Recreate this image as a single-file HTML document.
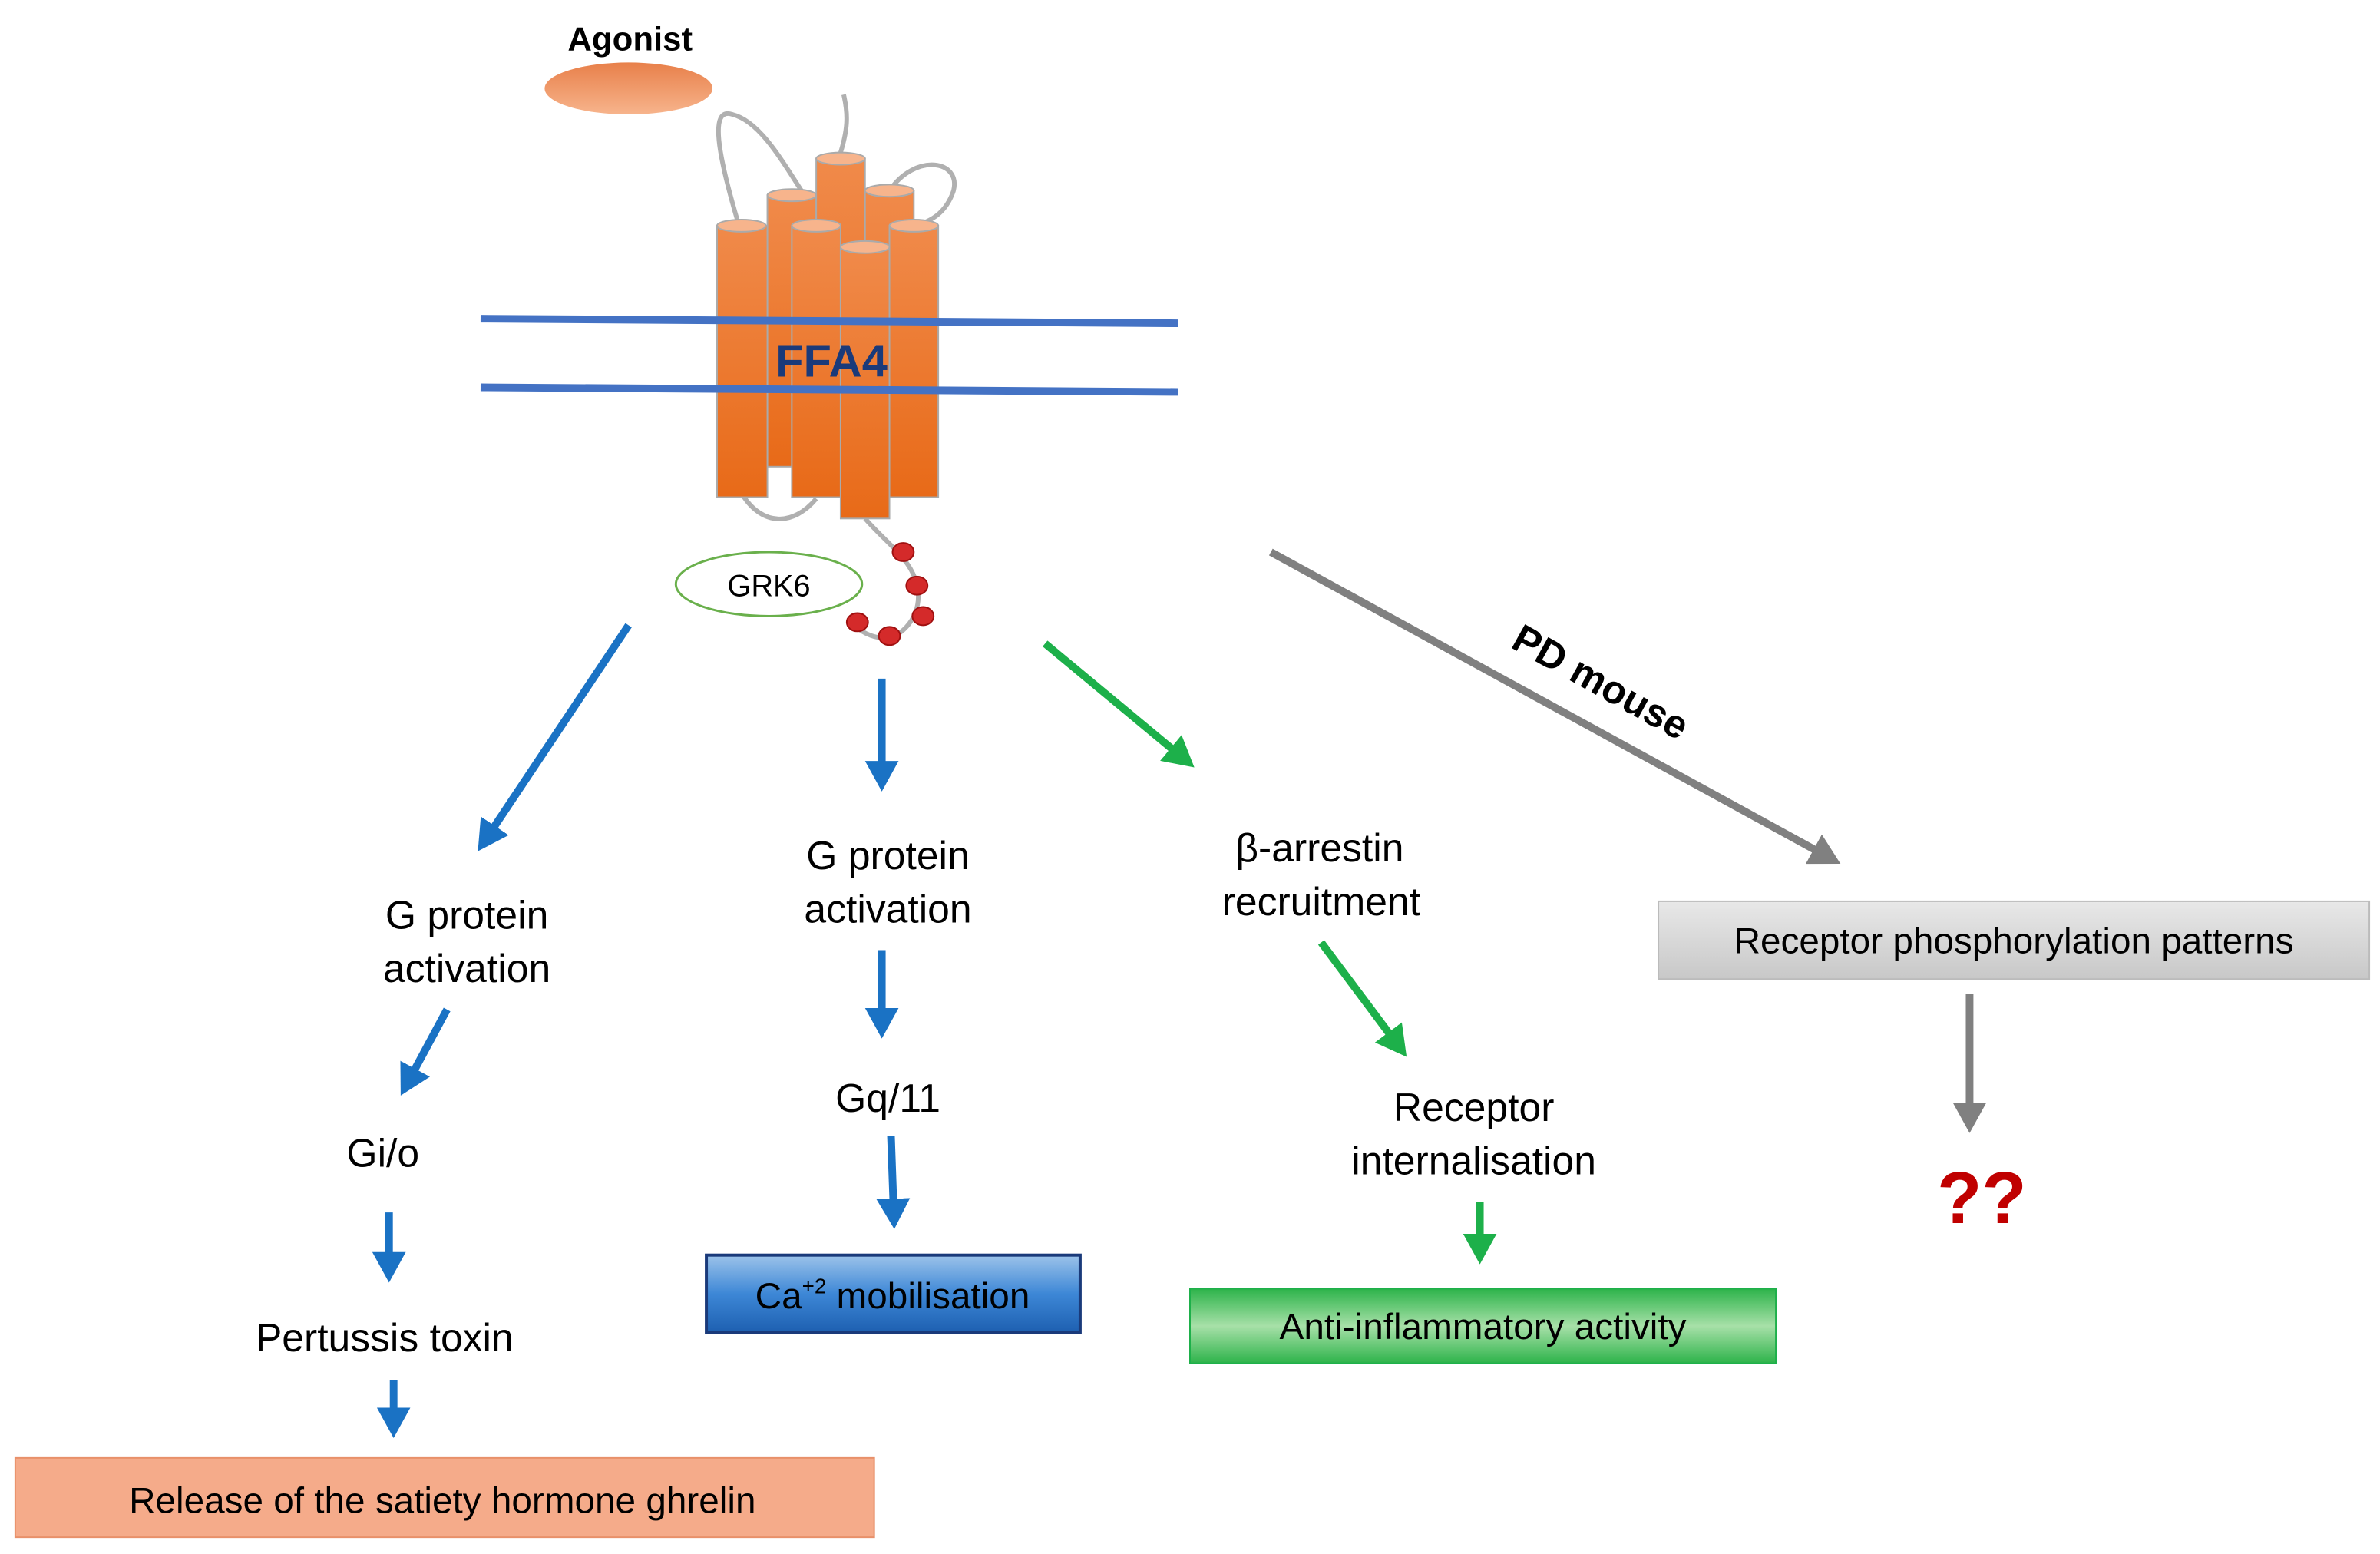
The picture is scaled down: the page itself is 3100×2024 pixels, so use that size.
<!DOCTYPE html>
<html><head><meta charset="utf-8"><style>
html,body{margin:0;padding:0;background:#fff;}
svg{display:block;}
text{font-family:"Liberation Sans",Arial,sans-serif;}
</style></head><body>
<svg width="3100" height="2024" viewBox="0 0 1560 1019" preserveAspectRatio="none" xmlns="http://www.w3.org/2000/svg">
<defs>
<linearGradient id="cyl" x1="0" y1="0" x2="0" y2="1"><stop offset="0" stop-color="#f08a4a"/><stop offset="1" stop-color="#e86a18"/></linearGradient>
<linearGradient id="ag" x1="0" y1="0" x2="0" y2="1"><stop offset="0" stop-color="#e8804a"/><stop offset="1" stop-color="#f7b48c"/></linearGradient>
<linearGradient id="ca" x1="0" y1="0" x2="0" y2="1"><stop offset="0" stop-color="#9cc3ea"/><stop offset="0.5" stop-color="#3d87d6"/><stop offset="1" stop-color="#1d5fb0"/></linearGradient>
<linearGradient id="an" x1="0" y1="0" x2="0" y2="1"><stop offset="0" stop-color="#2db34a"/><stop offset="0.5" stop-color="#a7e0a8"/><stop offset="1" stop-color="#2db34a"/></linearGradient>
<linearGradient id="gr" x1="0" y1="0" x2="0" y2="1"><stop offset="0" stop-color="#e8e8e8"/><stop offset="1" stop-color="#c8c8c8"/></linearGradient>
<marker id="mb" markerWidth="5" markerHeight="5" refX="3" refY="2.2" orient="auto" markerUnits="strokeWidth"><path d="M0,0 L4,2.2 L0,4.4 Z" fill="#1a72c4"/></marker>
<marker id="mg" markerWidth="5" markerHeight="5" refX="3" refY="2.2" orient="auto" markerUnits="strokeWidth"><path d="M0,0 L4,2.2 L0,4.4 Z" fill="#1db04a"/></marker>
<marker id="mgr" markerWidth="5" markerHeight="5" refX="3" refY="2.2" orient="auto" markerUnits="strokeWidth"><path d="M0,0 L4,2.2 L0,4.4 Z" fill="#808080"/></marker>
</defs>

<text x="413" y="33" font-size="22" font-weight="bold" text-anchor="middle">Agonist</text>
<ellipse cx="412" cy="58" rx="55" ry="17" fill="url(#ag)"/>

<g fill="none" stroke="#b0b0b0" stroke-width="3">
<path d="M485,150 C470,100 465,70 480,75 C500,80 515,110 535,140"/>
<path d="M550,103 C556,85 556,75 553,62"/>
<path d="M583,125 C600,100 630,105 625,125 C620,140 610,145 600,148"/>
<path d="M487,325 C500,345 520,345 535,327"/>
<path d="M567,340 C580,355 595,365 600,380 C605,395 600,410 585,418 C575,420 565,415 560,410"/>
</g>

<g stroke="#aaa" stroke-width="1">
<rect x="503" y="128" width="32" height="178" fill="url(#cyl)"/><ellipse cx="519" cy="128" rx="16" ry="4" fill="#f7b48c"/>
<rect x="535" y="104" width="32" height="220" fill="url(#cyl)"/><ellipse cx="551" cy="104" rx="16" ry="4" fill="#f7b48c"/>
<rect x="567" y="125" width="32" height="200" fill="url(#cyl)"/><ellipse cx="583" cy="125" rx="16" ry="4" fill="#f7b48c"/>
<rect x="470" y="148" width="33" height="178" fill="url(#cyl)"/><ellipse cx="486" cy="148" rx="16" ry="4" fill="#f7b48c"/>
<rect x="519" y="148" width="32" height="178" fill="url(#cyl)"/><ellipse cx="535" cy="148" rx="16" ry="4" fill="#f7b48c"/>
<rect x="583" y="148" width="32" height="178" fill="url(#cyl)"/><ellipse cx="599" cy="148" rx="16" ry="4" fill="#f7b48c"/>
<rect x="551" y="162" width="32" height="178" fill="url(#cyl)"/><ellipse cx="567" cy="162" rx="16" ry="4" fill="#f7b48c"/>
</g>
<line x1="315" y1="209" x2="772" y2="212" stroke="#4472c4" stroke-width="5"/>
<line x1="315" y1="254" x2="772" y2="257" stroke="#4472c4" stroke-width="5"/>
<text x="545" y="247" font-size="30" font-weight="bold" fill="#1a3a7a" text-anchor="middle">FFA4</text>

<g fill="#d42a2a" stroke="#a01010" stroke-width="1">
<ellipse cx="592" cy="362" rx="7" ry="6"/><ellipse cx="601" cy="384" rx="7" ry="6"/><ellipse cx="605" cy="404" rx="7" ry="6"/><ellipse cx="583" cy="417" rx="7" ry="6"/><ellipse cx="562" cy="408" rx="7" ry="6"/>
</g>
<ellipse cx="504" cy="383" rx="61" ry="21" fill="#fff" stroke="#6ab04c" stroke-width="1.5"/>
<text x="504" y="391" font-size="20" text-anchor="middle">GRK6</text>

<g stroke-width="5" fill="none">
<line x1="412" y1="410" x2="316" y2="554" stroke="#1a72c4" marker-end="url(#mb)"/>
<line x1="578" y1="445" x2="578" y2="514" stroke="#1a72c4" marker-end="url(#mb)"/>
<line x1="293" y1="662" x2="265" y2="714" stroke="#1a72c4" marker-end="url(#mb)"/>
<line x1="255" y1="795" x2="255" y2="836" stroke="#1a72c4" marker-end="url(#mb)"/>
<line x1="258" y1="905" x2="258" y2="938" stroke="#1a72c4" marker-end="url(#mb)"/>
<line x1="578" y1="623" x2="578" y2="676" stroke="#1a72c4" marker-end="url(#mb)"/>
<line x1="584" y1="745" x2="586" y2="801" stroke="#1a72c4" marker-end="url(#mb)"/>
<line x1="685" y1="422" x2="779" y2="500" stroke="#1db04a" marker-end="url(#mg)"/>
<line x1="866" y1="618" x2="919" y2="689" stroke="#1db04a" marker-end="url(#mg)"/>
<line x1="970" y1="788" x2="970" y2="824" stroke="#1db04a" marker-end="url(#mg)"/>
<line x1="833" y1="362" x2="1202" y2="564" stroke="#808080" marker-end="url(#mgr)"/>
<line x1="1291" y1="652" x2="1291" y2="738" stroke="#808080" marker-end="url(#mgr)"/>
</g>
<text x="1045" y="455" font-size="26" font-weight="bold" transform="rotate(29 1045 455)" text-anchor="middle">PD mouse</text>

<g font-size="26" text-anchor="middle">
<text x="306" y="609">G protein</text><text x="306" y="644">activation</text>
<text x="251" y="765">Gi/o</text>
<text x="252" y="886">Pertussis toxin</text>
<text x="582" y="570">G protein</text><text x="582" y="605">activation</text>
<text x="582" y="729">Gq/11</text>
<text x="865" y="565">β-arrestin</text><text x="866" y="600">recruitment</text>
<text x="966" y="735">Receptor</text><text x="966" y="770">internalisation</text>
</g>
<rect x="10" y="956" width="563" height="52" fill="#f5ab8a" stroke="#e8906a"/>
<text x="290" y="992" font-size="24" text-anchor="middle">Release of the satiety hormone ghrelin</text>
<rect x="463" y="823" width="245" height="51" fill="url(#ca)" stroke="#1a3a7a" stroke-width="2"/>
<text x="585" y="858" font-size="24" text-anchor="middle">Ca<tspan font-size="14" dy="-10">+2</tspan><tspan dy="10"> mobilisation</tspan></text>
<rect x="780" y="845" width="384" height="49" fill="url(#an)" stroke="#1db04a"/>
<text x="972" y="878" font-size="24" text-anchor="middle">Anti-inflammatory activity</text>
<rect x="1087" y="591" width="466" height="51" fill="url(#gr)" stroke="#bbb"/>
<text x="1320" y="625" font-size="24" text-anchor="middle">Receptor phosphorylation patterns</text>
<text x="1299" y="802" font-size="48" font-weight="bold" fill="#c00000" text-anchor="middle">??</text>
</svg>
</body></html>
